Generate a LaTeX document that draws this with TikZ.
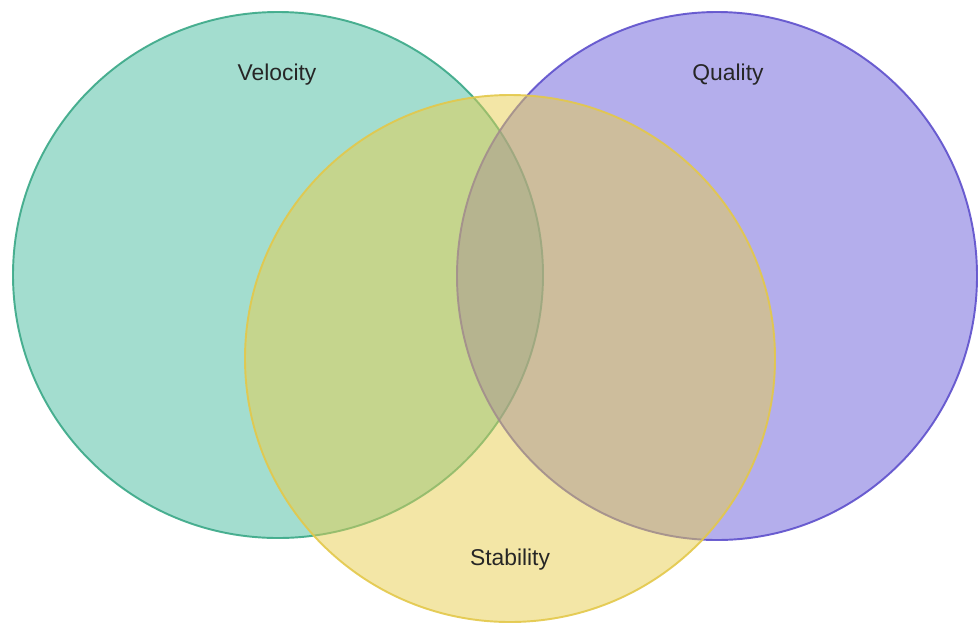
\documentclass[tikz,border=0pt]{standalone}
\usepackage{fontspec}
\setmainfont{Liberation Sans}
\usetikzlibrary{calc}

\definecolor{velfill}{HTML}{48BB9F}
\definecolor{veldraw}{HTML}{3AA887}
\definecolor{qualfill}{HTML}{695DD9}
\definecolor{qualdraw}{HTML}{5E50CC}
\definecolor{stabfill}{HTML}{E7CD4D}
\definecolor{stabdraw}{HTML}{E3C84A}

\begin{document}
\begin{tikzpicture}[x=0.02cm, y=-0.02cm, line width=1.1pt,
  set/.style={fill opacity=0.5, draw opacity=0.9},
  lbl/.style={font=\fontsize{13}{15}\selectfont, text=black!85}]
\useasboundingbox (0,0) rectangle (979,626);

\draw[set, fill=velfill, draw=veldraw] (278,275) ellipse [x radius=265, y radius=263];
\draw[set, fill=qualfill, draw=qualdraw] (717,276) ellipse [x radius=260, y radius=264];
\draw[set, fill=stabfill, draw=stabdraw] (510,358.5) ellipse [x radius=265, y radius=263.5];

\node[lbl] (T1) at (277, 75) {Velocity};
\node[lbl] (T2) at (728, 75) {Quality};
\node[lbl] (T3) at (510, 560) {Stability};
\end{tikzpicture}
\end{document}
